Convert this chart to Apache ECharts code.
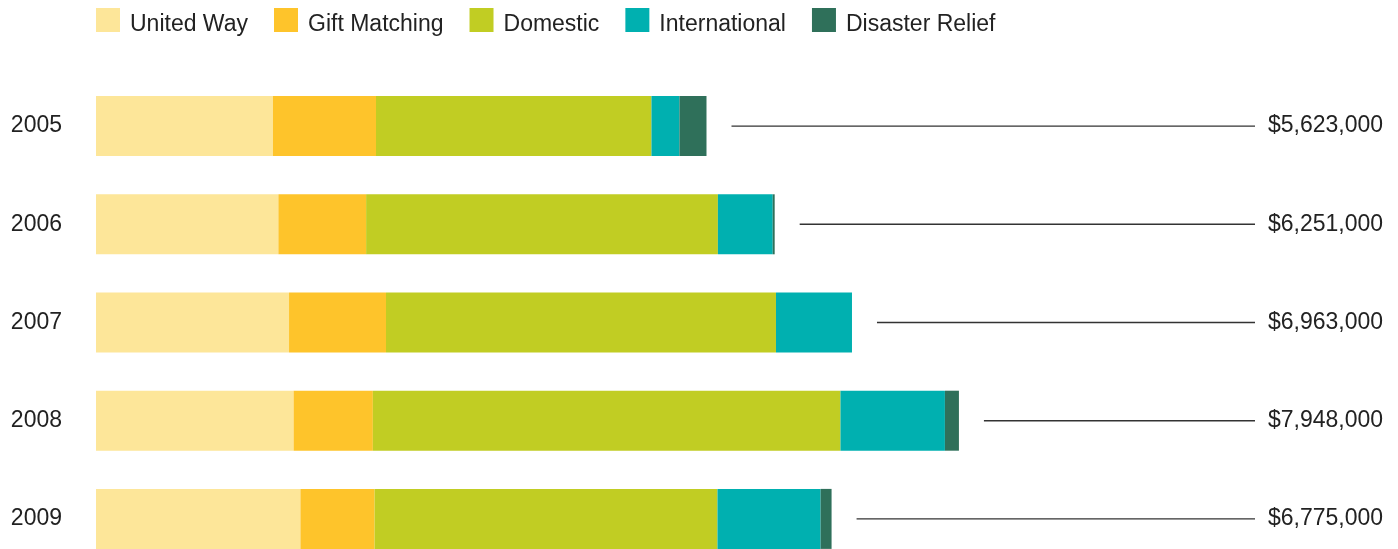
<!DOCTYPE html>
<html>
<head>
<meta charset="utf-8">
<script src="https://cdn.jsdelivr.net/npm/echarts@6/dist/echarts.min.js"></script>
<style>
  html, body { margin: 0; padding: 0; background: #fff; }
  #chart { width: 1398px; height: 549px; }
</style>
</head>
<body>
<div id="chart"></div>
<script>
// years, top to bottom
const years = ['2005', '2006', '2007', '2008', '2009']

// giving by type, in dollars
const unitedWay     = [1630000, 1680000, 1778000, 1820000, 1883000]
const giftMatching  = [949000, 808000, 893000, 730000, 683000]
const domestic      = [2537000, 3240000, 3592000, 4307000, 3158000]
const international = [258000, 505000, 700000, 962000, 950000]
const disaster      = [249000, 18000, 0, 129000, 101000]

// totals printed at the right
const totals = [5623000, 6251000, 6963000, 7948000, 6775000]
const totalLabels = ['$5,623,000', '$6,251,000', '$6,963,000', '$7,948,000', '$6,775,000']

const FONT = 'Liberation Sans'
const TEXT = '#222'
const X_MAX = 10675000

const chart = echarts.init(document.getElementById('chart'))

function barSeries(name, data, color) {
  return {
    name: name,
    type: 'bar',
    stack: 'total',
    barWidth: 60,
    data: data,
    itemStyle: { color: color },
    emphasis: { disabled: true },
  }
}

const option = {
  animation: false,
  textStyle: { fontFamily: FONT },
  legend: {
    left: 91,
    top: 3,
    icon: 'rect',
    itemWidth: 24,
    itemHeight: 24,
    itemGap: 26,
    // text sits a bit below the middle of the square
    formatter: name => '{t|' + name + '}',
    textStyle: {
      fontSize: 23, color: TEXT, fontFamily: FONT,
      rich: { t: { fontSize: 23, color: TEXT, fontFamily: FONT, padding: [10, 0, 0, 5] } },
    },
    data: ['United Way', 'Gift Matching', 'Domestic', 'International', 'Disaster Relief'],
  },
  grid: {
    left: 96,
    right: 143,
    top: 77,
    height: 491,
    outerBoundsMode: 'none',
    containLabel: false,
  },
  xAxis: {
    type: 'value',
    min: 0,
    max: X_MAX,
    show: false,
  },
  yAxis: {
    type: 'category',
    inverse: true,
    data: years,
    axisLine: { show: false },
    axisTick: { show: false },
    axisLabel: { fontSize: 23, color: TEXT, margin: 34, fontFamily: FONT },
  },
  series: [
    barSeries('United Way', unitedWay, '#fde699'),
    barSeries('Gift Matching', giftMatching, '#fec42b'),
    barSeries('Domestic', domestic, '#c1cd23'),
    barSeries('International', international, '#00b0b0'),
    barSeries('Disaster Relief', disaster, '#2f705a'),
    {
      // leader line + total label
      type: 'custom',
      clip: false,
      silent: true,
      data: totals.map((t, i) => [t, i]),
      renderItem: function (params, api) {
        const start = api.coord([api.value(0), api.value(1)])
        const end = api.coord([X_MAX, api.value(1)])
        return {
          type: 'group',
          children: [
            {
              type: 'line',
              shape: { x1: start[0] + 25, y1: start[1], x2: end[0], y2: end[1] },
              style: { stroke: '#333', lineWidth: 1.4 },
            },
            {
              type: 'text',
              x: end[0] + 13,
              y: end[1],
              style: {
                text: totalLabels[params.dataIndex],
                fill: TEXT,
                font: '23px "' + FONT + '"',
                verticalAlign: 'middle',
                align: 'left',
              },
            },
          ],
        }
      },
    },
  ],
}

chart.setOption(option)
</script>
</body>
</html>
